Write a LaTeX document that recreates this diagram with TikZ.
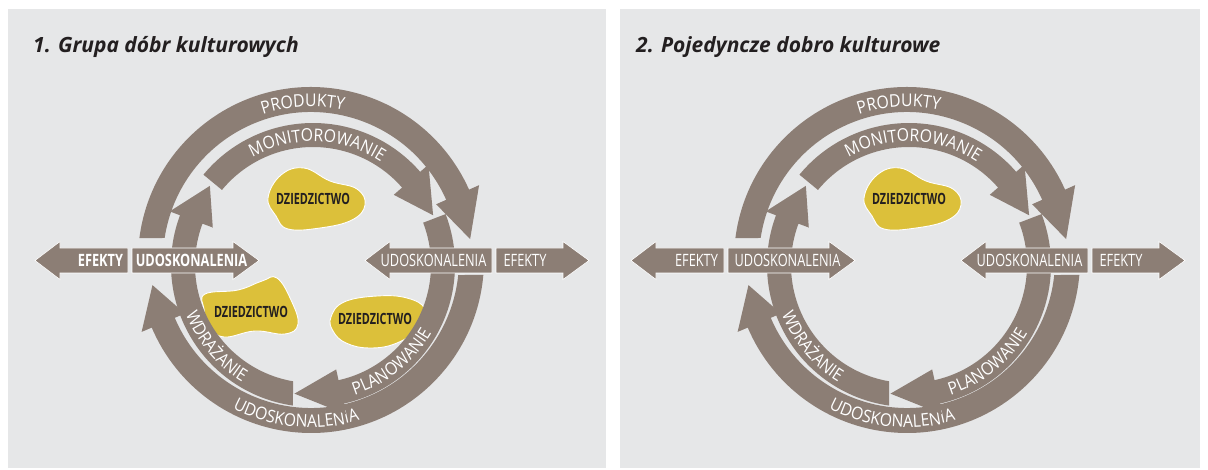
\documentclass[tikz,border=0pt]{standalone}
\usepackage{fontspec}
\setmainfont{Open Sans}
\newfontfamily\condfont[FakeStretch=0.75]{Open Sans}
\newfontfamily\narrowfont[FakeStretch=0.7]{Open Sans}
\newfontfamily\arcfont[FakeStretch=0.9]{Open Sans}
\usetikzlibrary{decorations.text}

\definecolor{ringc}{RGB}{140,126,117}
\definecolor{panelc}{RGB}{230,231,232}
\definecolor{blobc}{RGB}{220,192,58}
\definecolor{inkc}{RGB}{35,31,32}

\tikzset{
  panel/.style={fill=panelc, draw=none},
  band/.style={fill=ringc, draw=none},
  flatarrow/.style={fill=ringc, draw=white, line width=0.6pt},
  blob/.style={fill=blobc, draw=white, line width=0.9pt},
  blobtext/.style={font=\narrowfont\bfseries\fontsize{15.5}{15.5}\selectfont, text=inkc, inner sep=0pt},
  sidetext/.style={font=\condfont\fontsize{17}{17}\selectfont, text=white, inner sep=0pt, anchor=base},
  paneltitle/.style={font=\bfseries\itshape\fontsize{21}{21}\selectfont, text=inkc, anchor=base west, inner sep=0pt},
}

% white caption written along an arc: radius, from angle, to angle, text
\newcommand\arclabel[4]{%
  \path[decorate, decoration={text along path, text align=center, text color=white,
      text={|\arcfont\fontsize{17.5}{17.5}\selectfont|#4}}]
    (#2:#1) arc[start angle=#2, end angle=#3, radius=#1];}

% the two rings of curved arrows with the horizontal arrows
% #1 prefix for node names, #2 font switch for the left-hand labels
\newcommand\ringcycle[2]{%
  % outer ring
  \begin{scope}[shift={(311,-260)}]
    \fill[band] (172.7:173) arc[start angle=172.7, end angle=24, radius=173]
      -- (24:184) -- (7.5:160.5) -- (24:137) -- (24:148)
      arc[start angle=24, end angle=171.45, radius=148] -- cycle;
    \fill[band] (-4.97:173) arc[start angle=-4.97, end angle=-157, radius=173]
      -- (-157:184) -- (-171:160.5) -- (-157:137) -- (-157:148)
      arc[start angle=-157, end angle=-5.82, radius=148] -- cycle;
    \arclabel{153.5}{140}{46}{PRODUKTY}
    \arclabel{167.5}{-150}{-41}{UDOSKONALENIA}
  \end{scope}
  % inner ring
  \begin{scope}[shift={(313,-265)}]
    \fill[band] (140.5:142) arc[start angle=140.5, end angle=41, radius=142]
      -- (41:153) -- (22.5:130) -- (41:107) -- (41:118)
      arc[start angle=41, end angle=140.5, radius=118] -- cycle;
    \fill[band] (21:142) arc[start angle=21, end angle=-77.5, radius=142]
      -- (-77.5:153) -- (-98.2:130) -- (-77.5:107) -- (-77.5:118)
      arc[start angle=-77.5, end angle=21, radius=118] -- cycle;
    \fill[band] (-98.1:142) arc[start angle=-98.1, end angle=-200.5, radius=142]
      -- (-200.5:153) -- (-217.5:130) -- (-200.5:107) -- (-200.5:118)
      arc[start angle=-200.5, end angle=-99.76, radius=118] -- cycle;
    \arclabel{123.5}{150}{26}{MONITOROWANIE}
    \arclabel{136.5}{-101}{-1}{PLANOWANIE}
    \arclabel{136.5}{-190}{-90}{WDRAŻANIE}
  \end{scope}
  % horizontal arrows
  \fill[flatarrow] (128,-248) -- (60,-248) -- (60,-241.5) -- (35,-260.5) -- (60,-279.5)
    -- (60,-273) -- (128,-273) -- cycle;
  \fill[flatarrow] (132,-248) -- (233,-248) -- (233,-241.5) -- (259,-260.5) -- (233,-279.5)
    -- (233,-273) -- (132,-273) -- cycle;
  \fill[flatarrow] (492,-248) -- (390,-248) -- (390,-241.5) -- (365,-260.5) -- (390,-279.5)
    -- (390,-273) -- (492,-273) -- cycle;
  \fill[flatarrow] (496,-248) -- (563,-248) -- (563,-241.5) -- (589,-260.5) -- (563,-279.5)
    -- (563,-273) -- (496,-273) -- cycle;
  \node[sidetext] (#1-efl) at (100.5,-267) {#2EFEKTY};
  \node[sidetext] (#1-udl) at (191.5,-267) {#2UDOSKONALENIA};
  \node[sidetext] (#1-udr) at (433.5,-267) {UDOSKONALENIA};
  \node[sidetext] (#1-efr) at (525,-267) {EFEKTY};
}

\newcommand\topblob{%
  \fill[blob] plot[smooth cycle, tension=0.7] coordinates {
    (268,-198) (281,-175) (304,-168) (330,-181) (357,-189) (365,-205)
    (352,-220) (320,-228) (288,-229) (276,-216)};}

\begin{document}
\begin{tikzpicture}[x=1pt, y=1pt]
  \useasboundingbox (0,0) rectangle (1208,-470);
  \fill[white] (0,0) rectangle (1208,-470);

  % left panel
  \fill[panel] (8,-9) rectangle (606,-468);
  \node[paneltitle] (t1) at (33,-53) {1. Grupa dóbr kulturowych};
  \topblob
  \fill[blob] plot[smooth cycle, tension=0.7] coordinates {
    (205,-294) (238,-290) (262,-281) (277,-278) (291,-300) (298,-324)
    (285,-334) (255,-331) (224,-337) (209,-326) (204,-309)};
  \fill[blob] plot[smooth cycle, tension=0.7] coordinates {
    (331,-317) (344,-302) (377,-296) (407,-298) (425,-309) (420,-327)
    (397,-343) (370,-348) (346,-343) (333,-331)};
  \node[blobtext] (h1) at (313,-199) {DZIEDZICTWO};
  \node[blobtext] (h2) at (251,-312) {DZIEDZICTWO};
  \node[blobtext] (h3) at (375,-319) {DZIEDZICTWO};
  \ringcycle{a}{\bfseries}

  % right panel
  \fill[panel] (620,-9) rectangle (1200,-468);
  \node[paneltitle] (t2) at (636,-53) {2. Pojedyncze dobro kulturowe};
  \begin{scope}[xshift=596pt]
    \topblob
    \node[blobtext] (h4) at (313,-199) {DZIEDZICTWO};
    \ringcycle{b}{}
  \end{scope}
\end{tikzpicture}
\end{document}
